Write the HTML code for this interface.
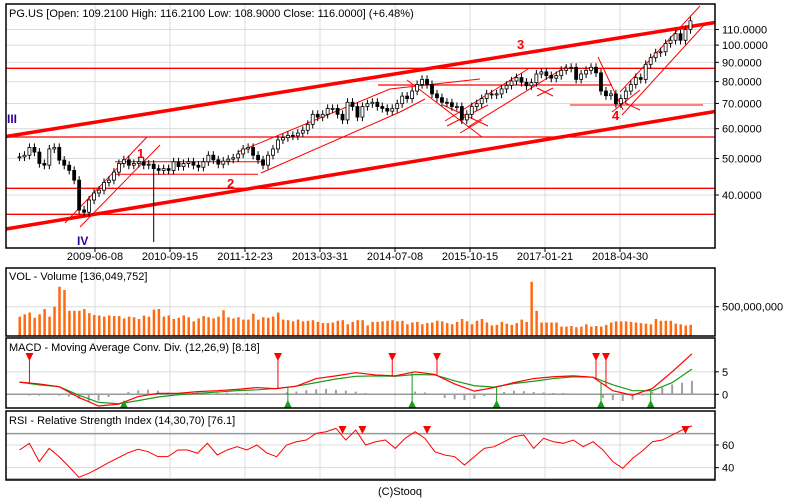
<!DOCTYPE html>
<html><head><meta charset="utf-8"><style>
html,body{margin:0;padding:0;background:#fff;}
svg{display:block;font-family:"Liberation Sans",sans-serif;}
</style></head><body>
<svg id="chart" width="800" height="500" viewBox="0 0 800 500" xmlns="http://www.w3.org/2000/svg">
<rect x="0" y="0" width="800" height="500" fill="#fff"/>
<g id="grid"></g>
<g id="lines"></g>
<g id="candles"></g>
<g id="vol"></g>
<g id="macd"></g>
<g id="rsi"></g>
<g id="frames"></g>
<g id="texts" font-size="11" fill="#000"></g>
</svg>
<script>
const closes=[50.5,51,53.5,52,48.5,48,53,53.5,49.5,48,46.5,43.8,36.5,36,38.8,40.5,41.2,43.2,43.8,46,48.5,49.6,48,48.5,49,48,48.3,47,46.5,47,46.5,49,47.6,48.5,49,48,47.4,49,51,49.6,48.3,49.2,49.8,50.2,51.4,53,53.5,51,49.6,48,51,53,56,56.8,57.6,57.4,58.4,59.4,61.6,65.5,64.4,65.5,67.9,67.9,65.5,63.3,70.5,68.7,64.4,68.7,69.9,70.5,68.7,67.9,66.8,67.9,69.9,73.2,72.1,75.5,78.6,81.1,78.6,74.2,72.5,70.5,70.3,68.7,68.7,63.3,65.5,68.7,69.9,72.1,74.2,73.8,74.2,76.5,78.2,80.3,82,79.7,78,79.5,83.8,84.9,83,81.7,83,85.7,86.8,87.3,81.1,83.8,85.7,87.3,84.4,75.5,73.4,74.2,69.9,72.1,75.5,78.6,82,81.1,88.9,92.6,95.4,96,101,103,107.2,103,110,116];
const lowOverride={27:30};
const volumes=[330,370,400,310,370,460,330,500,840,785,430,430,430,460,390,360,350,330,350,340,340,300,330,320,290,350,330,450,460,330,350,290,310,350,320,250,300,340,320,300,330,440,320,300,320,280,280,380,280,320,310,330,400,280,270,250,280,250,260,270,240,220,220,230,260,270,200,240,270,270,180,240,240,250,260,270,250,260,200,230,240,200,220,230,260,250,220,200,240,290,250,200,260,290,230,180,190,240,210,190,220,280,240,925,430,230,230,230,230,160,160,170,150,160,200,160,170,160,190,230,250,250,250,240,230,220,210,200,290,260,260,260,210,200,180,190];
const macdLine=[2.7,2.3,1.7,-0.7,-2.6,-2.2,-0.5,0.2,0.2,0.6,0.8,1.1,1.5,1.25,1.8,3.5,4.1,4.8,4.3,4.1,5.0,4.4,2.3,0.7,1.5,2.6,3.5,3.9,4.1,3.8,0.8,-0.2,1.3,5.0,9.0];
const signalLine=[2.7,2.1,1.7,-0.2,-1.8,-2.1,-1.4,-0.6,-0.1,0.2,0.5,0.8,1.0,1.3,1.8,2.6,3.4,4.0,4.1,4.0,4.4,4.3,3.0,1.9,1.6,2.4,2.9,3.5,3.9,3.8,2.1,0.8,0.8,2.6,5.6];
const macdHist=[0,-0.3,-0.3,-0.2,-0.3,-0.5,-1.0,-1.6,-1.4,-0.6,-0.2,0.5,0.9,1.0,0.8,0.4,0.3,0.3,0.4,0.3,0.3,0.4,0.3,0.3,0.2,0,0.2,0.4,0.6,0.9,1.1,1.2,1.0,0.8,0.6,0.3,0.1,0,-0.2,0,0.6,0.4,-0.2,-0.8,-1.1,-1.3,-1.0,-0.4,0,0.5,0.8,0.7,0.5,0.4,0.3,0.3,0.2,0.1,0,-0.8,-1.3,-1.5,-1.2,-0.3,0.5,1.5,2.2,2.6,3.0];
const rsiLine=[55.6,61.5,45.3,57,49.7,40.9,31.5,35,39.4,44.4,48.8,53.2,56.2,54.1,49.7,49.7,55.6,55.6,52.7,61.5,51.2,55.6,58.5,55.6,60,53,49.7,60,62.9,64.4,70.3,71.7,74.7,64.4,73.2,60,62.9,64.4,57,65.9,71.7,65.9,54.1,51.2,49.7,42.3,49.7,57,58.5,62.9,67.3,68.8,57,65.9,62.9,61.5,64.4,58.5,62.9,55.6,45.3,39.4,48.2,54.8,62.9,64.4,68.8,73.2,77];
const macdSells=[2,52,75,84,116,118];
const macdBuys=[21,54,79,96,117,127];
const rsiSignals=[65,69,82,134];
const priceTicks=[40,50,60,70,80,90,100,110];
const dateLabels=["2009-06-08","2010-09-15","2011-12-23","2013-03-31","2014-07-08","2015-10-15","2017-01-21","2018-04-30"];

const NS="http://www.w3.org/2000/svg";
function mk(parent,tag,attrs){const e=document.createElementNS(NS,tag);for(const k in attrs)e.setAttribute(k,attrs[k]);parent.appendChild(e);return e;}
const L=6,R=715;
const xIdx=i=>19.5+4.97*i;
const yP=p=>195-163.6*Math.log(p/40);
const yV=v=>336-v/500*29.3;
const yM=v=>394.3-v*4.5;
const yR=v=>445-(v-60)*1.133;
const gridXs=[95,170,245,320,395,470,545,620];
const G=document.getElementById('grid'),T=document.getElementById('texts');

// vertical grids in all panels
[[4,248],[268,336],[338,408],[411,480]].forEach(([a,b])=>{gridXs.forEach(x=>{const l=mk(G,'line',{x1:x,x2:x,y1:a,y2:b,stroke:'#dcdcdc','stroke-width':1});

});});
priceTicks.forEach(p=>{const y=yP(p);const l=mk(G,'line',{x1:L,x2:R,y1:y,y2:y,stroke:'#dcdcdc'});


mk(G,'line',{x1:R,x2:R+4,y1:y,y2:y,stroke:'#000'});
const t=mk(T,'text',{x:722,y:y+4});t.textContent=p.toFixed(4);

});
dateLabels.forEach((d,i)=>{const x=gridXs[i];mk(G,'line',{x1:x,x2:x,y1:248,y2:252,stroke:'#000'});
const t=mk(T,'text',{x:x,y:260,'text-anchor':'middle'});t.textContent=d;

});
// sub-panel grids
[[306.7,'#dcdcdc'],[yM(5),'#dcdcdc'],[yM(0),'#999'],[yR(60),'#dcdcdc'],[yR(40),'#dcdcdc'],[yR(70),'#999'],[479,'#999']].forEach(([y,c])=>{mk(G,'line',{x1:L,x2:R,y1:y,y2:y,stroke:c,'stroke-width':c==='#999'?1.5:1});});
[['500,000,000',306.7],['5',yM(5)],['0',yM(0)],['60',yR(60)],['40',yR(40)]].forEach(([s,y])=>{mk(G,'line',{x1:R,x2:R+4,y1:y,y2:y,stroke:'#000'});const t=mk(T,'text',{x:722,y:y+4});t.textContent=s;

});

// trend lines
const LN=document.getElementById('lines');
function seg(x1,y1,x2,y2,w){const l=mk(LN,'line',{x1,y1,x2,y2,stroke:'#ff0000','stroke-width':w||1});

}
seg(L,136.5,R,22.5,3.5);seg(L,229,R,111.5,3.5);
[68.3,137,188.3,214.3].forEach(y=>seg(L,y,R,y,1.3));
seg(378,85,612,85,1.3);seg(570,105,703,105,1);
seg(115,161.7,265,161.7,1);seg(111,174.3,258,174.3,1);
seg(65,223,147,137);seg(80,227,160,145);
seg(238,152,390,89);seg(390,89,480,79);seg(261,173,400,112);seg(400,112,425,99);
seg(407,80,482,137);seg(443,105,488,126);seg(447,126,488,105);seg(460,133,482,120);
seg(445,121,528,69);seg(468,127,567,66);seg(537,88,553,96);seg(537,96,553,88);
seg(598,57,623,110);seg(612,112,640,90);seg(620,92,700,6);seg(622,115,705,24);seg(625,103,640,110);

// candles
const C=document.getElementById('candles');
closes.forEach((c,i)=>{const o=i?closes[i-1]:c;const x=xIdx(i);
const hi=Math.max(o,c)*1.025,lo=lowOverride[i]!==undefined?lowOverride[i]:Math.min(o,c)*0.975;
const w=mk(C,'line',{x1:x,x2:x,y1:yP(hi),y2:yP(lo),stroke:'#000'});


const yt=yP(Math.max(o,c)),yb=yP(Math.min(o,c));
const b=mk(C,'rect',{x:x-1.5,y:yt,width:3,height:Math.max(1,yb-yt),fill:c>=o?'#fff':'#000',stroke:'#000','stroke-width':0.8});

});

// volume
const V=document.getElementById('vol');
volumes.forEach((v,i)=>{const y=yV(v);const r=mk(V,'rect',{x:xIdx(i)-1,y:y,width:2.5,height:336-y,fill:'#ff6a10'});

});

// MACD
const M=document.getElementById('macd');
const sx=k=>xIdx(k*135.3/34);
const hx=k=>xIdx(k*135.3/68);
macdHist.forEach((h,k)=>{const y=yM(h),y0=yM(0);const r=mk(M,'rect',{x:hx(k)-1,y:Math.min(y,y0),width:2,height:Math.abs(y-y0),fill:'#a0a0a0'});

});
const pm=mk(M,'polyline',{points:signalLine.map((v,k)=>sx(k)+','+yM(v)).join(' '),fill:'none',stroke:'#1a9a1a','stroke-width':1.2});


const pr=mk(M,'polyline',{points:macdLine.map((v,k)=>sx(k)+','+yM(v)).join(' '),fill:'none',stroke:'#ff0000','stroke-width':1.2});


function macdAt(i){const k=i*34/135.3;const a=Math.floor(k),b=Math.min(34,a+1),f=k-a;return macdLine[a]*(1-f)+macdLine[b]*f;}
macdSells.forEach(i=>{const x=xIdx(i);mk(M,'line',{x1:x,x2:x,y1:356,y2:yM(macdAt(i)),stroke:'#ff0000'});
const t=mk(M,'polygon',{points:`${x-4},353 ${x+4},353 ${x},361`,fill:'#ff0000'});

});
macdBuys.forEach(i=>{const x=xIdx(i);mk(M,'line',{x1:x,x2:x,y1:404,y2:yM(macdAt(i)),stroke:'#1a9a1a'});
const t=mk(M,'polygon',{points:`${x-4},408 ${x+4},408 ${x},400`,fill:'#1a9a1a'});

});

// RSI
const RS=document.getElementById('rsi');
const rp=mk(RS,'polyline',{points:rsiLine.map((v,k)=>hx(k)+','+yR(v)).join(' '),fill:'none',stroke:'#ff0000','stroke-width':1});


rsiSignals.forEach(i=>{const x=xIdx(i);const t=mk(RS,'polygon',{points:`${x-4},426 ${x+4},426 ${x},434`,fill:'#ff0000'});

});

// frames
const F=document.getElementById('frames');
[[4,248],[268,336],[338,408],[411,480]].forEach(([a,b])=>{const r=mk(F,'rect',{x:L,y:a,width:R-L,height:b-a,fill:'none',stroke:'#000','stroke-width':1.5});

});

// texts
function txt(s,x,y,extra,name){const t=mk(T,'text',Object.assign({x,y},extra||{}));t.textContent=s;

}
txt('PG.US [Open: 109.2100  High: 116.2100  Low: 108.9000  Close: 116.0000] (+6.48%)',9,17,{'xml:space':'preserve'},'chart-title');
txt('VOL - Volume [136,049,752]',9,280,{},'volume-title');
txt('MACD - Moving Average Conv. Div. (12,26,9) [8.18]',9,351,{},'macd-title');
txt('RSI - Relative Strength Index (14,30,70) [76.1]',9,424,{},'rsi-title');
txt('(C)Stooq',400,495,{'text-anchor':'middle'},'copyright');
txt('1',137,158,{fill:'#ff0000','font-weight':'bold','font-size':13},'wave-label-1');
txt('2',227,188,{fill:'#ff0000','font-weight':'bold','font-size':13},'wave-label-2');
txt('3',517,49,{fill:'#ff0000','font-weight':'bold','font-size':13},'wave-label-3');
txt('4',612,120,{fill:'#ff0000','font-weight':'bold','font-size':13},'wave-label-4');
txt('III',7,123,{fill:'#330099','font-weight':'bold','font-size':12},'wave-label-iii');
txt('IV',77,245,{fill:'#330099','font-weight':'bold','font-size':12},'wave-label-iv');
</script>
</body></html>
